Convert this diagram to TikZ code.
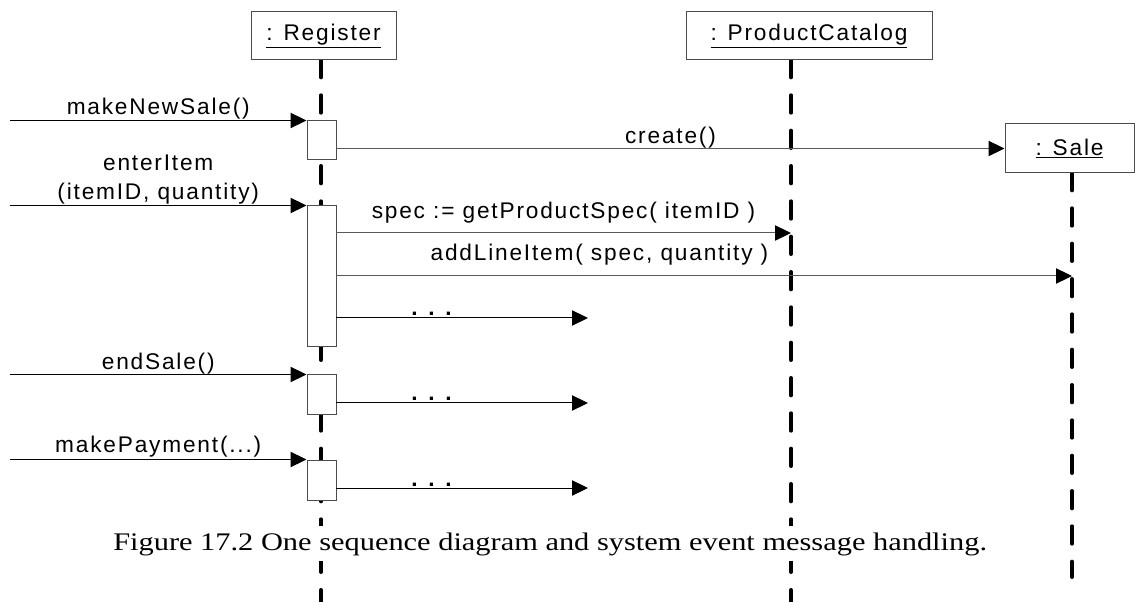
\documentclass[tikz,border=0pt]{standalone}
\usepackage{fontspec}
\setmainfont{Liberation Serif}
\newfontfamily\objfont{Liberation Sans}[LetterSpace=8]
\newfontfamily\msgfont{Liberation Sans}[LetterSpace=8]
\newfontfamily\capfont{Liberation Serif}[FakeStretch=1.2]
\usetikzlibrary{arrows.meta}
\tikzset{
	obj/.style={draw=black!70, line width=0.75pt, fill=white, minimum height=36pt, inner sep=0pt,
		font=\objfont\fontsize{17}{20}\selectfont},
	act/.style={draw=black!70, line width=0.75pt, fill=white, minimum width=21.75pt, inner sep=0pt},
	lifeline/.style={line width=3pt, line cap=round, dash pattern=on 13pt off 13.5pt},
	msg/.style={line width=0.75pt, -{Triangle[length=12pt,width=11.5pt,color=black]}},
	callmsg/.style={msg, draw=black!65},
	msglabel/.style={font=\msgfont\fontsize{17}{21.75}\selectfont, inner sep=0pt, anchor=base},
	capnode/.style={font=\capfont\fontsize{19}{22}\selectfont, fill=white, inner xsep=0pt, inner ysep=4.5pt}
}
\begin{document}
\begin{tikzpicture}[x=0.75pt,y=-0.75pt]
				\useasboundingbox (0,0) rectangle (1136,602);
				\coordinate (regL) at (321,60);
				\coordinate (catL) at (791,60);
				\coordinate (saleL) at (1072,173);
				\coordinate (env) at (10,0);
				\coordinate (dotsend) at (588,0);
				\draw[lifeline] (regL)--(321,602);
				\draw[lifeline] (catL)--(791,602);
				\draw[lifeline] (saleL)--(1072,577);
				\node[capnode, anchor=base west] (caption) at (113,550) {Figure 17.2 One sequence diagram and system event message handling.};
				\node[obj, minimum width=108.75pt] (reg) at (323.5,36) {\underline{: Register}};
				\node[obj, minimum width=184.5pt] (cat) at (809,36) {\underline{: ProductCatalog}};
				\node[obj, minimum width=96.75pt, minimum height=36.75pt] (sale) at (1069.5,148.5) {\underline{: Sale}};
				\foreach \n/\y/\h in {act1/140.5/29.25pt,act2/276.5/105.75pt,act3/395/30pt,act4/480/30pt}
					\node[act, minimum height=\h] (\n) at (321.5,\y) {};
				\draw[msg] (env |- act1.north) -- (act1.north west) node[msglabel, midway, yshift=4.5pt] {makeNewSale()};
				\draw[msg] (env |- act2.north) -- (act2.north west) node[msglabel, midway, anchor=south, yshift=0.6pt, align=center] {enterItem\\(itemID, quantity)};
				\draw[msg] (env |- act3.north) -- (act3.north west) node[msglabel, midway, yshift=3.75pt] {endSale()};
				\draw[msg] (env |- act4.north) -- (act4.north west) node[msglabel, midway, yshift=5.25pt] {makePayment(...)};
				\draw[callmsg] (act1.east |- sale.west) -- (sale.west) node[msglabel, midway, yshift=3.4pt] {create()};
				\coordinate (getspec) at (336,233);
				\coordinate (addline) at (336,276);
				\coordinate (more1) at (336,318);
				\coordinate (more2) at (336,403);
				\coordinate (more3) at (336,488);
				\draw[callmsg] (getspec) -- (getspec -| catL) node[msglabel, midway, yshift=10.5pt] {spec := getProductSpec( itemID )};
				\draw[callmsg] (addline) -- (addline -| saleL) node[msglabel, pos=0.358, yshift=11.25pt] {addLineItem( spec, quantity )};
				\foreach \m in {more1,more2,more3} \draw[msg] (\m) -- (\m -| dotsend) node[msglabel, pos=0.379, yshift=1.5pt] {\bfseries . . .};
			\end{tikzpicture}
\end{document}
